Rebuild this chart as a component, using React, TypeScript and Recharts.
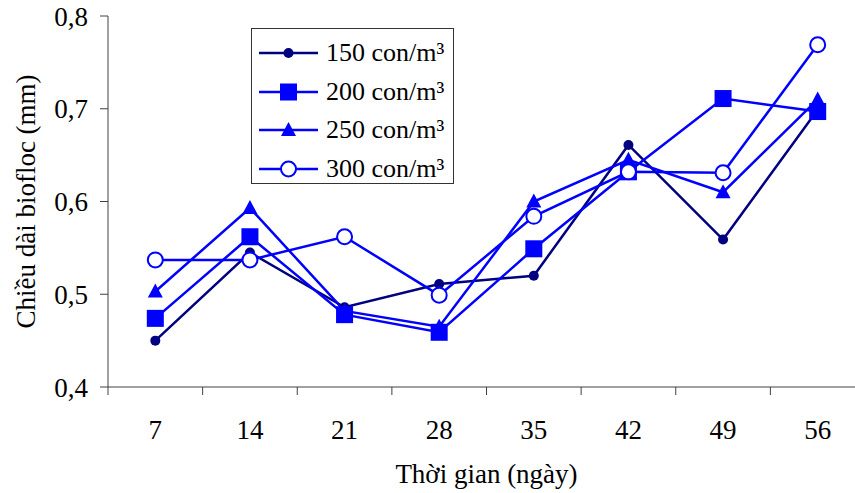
import React from 'react';
import { LineChart, Line, XAxis, YAxis, Legend, Label } from 'recharts';

// Thời gian (ngày)
const days = ['7', '14', '21', '28', '35', '42', '49', '56'];

// Chiều dài biofloc (mm) theo mật độ
const d150 = [0.45, 0.545, 0.486, 0.511, 0.52, 0.661, 0.559, 0.699];
const d200 = [0.474, 0.562, 0.478, 0.459, 0.549, 0.632, 0.711, 0.697];
const d250 = [0.503, 0.593, 0.482, 0.465, 0.6, 0.645, 0.61, 0.71];
const d300 = [0.537, 0.537, 0.562, 0.499, 0.584, 0.632, 0.631, 0.769];

const yTicks = [0.4, 0.5, 0.6, 0.7, 0.8];

const data = days.map((d, i) => ({ day: d, s150: d150[i], s200: d200[i], s250: d250[i], s300: d300[i] }));

const series = [
  { key: 's150', name: '150 con/m³', color: '#000080', shape: 'dot' },
  { key: 's200', name: '200 con/m³', color: '#0000FF', shape: 'square' },
  { key: 's250', name: '250 con/m³', color: '#0000FF', shape: 'triangle' },
  { key: 's300', name: '300 con/m³', color: '#0000FF', shape: 'ring' },
];
// draw order (square sits over triangle in the original)
const drawOrder = ['s150', 's250', 's200', 's300'];

const W = 855;
const H = 493;
const LEFT = 108;
const RIGHT = -10;
const HALF = (W - LEFT - RIGHT) / 16;
const FONT = '"Liberation Serif", "Times New Roman", serif';
const AXIS = '#404040';

const Marker = ({ cx, cy, shape, color }: any) => {
  if (cx == null || cy == null) return null;
  if (shape === 'dot') return <circle cx={cx} cy={cy} r={5} fill={color} />;
  if (shape === 'square') return <rect x={cx - 8.5} y={cy - 8.5} width={17} height={17} fill={color} />;
  if (shape === 'triangle')
    return <polygon points={`${cx},${cy - 8} ${cx + 7.5},${cy + 6} ${cx - 7.5},${cy + 6}`} fill={color} />;
  return <circle cx={cx} cy={cy} r={7.5} fill="#fff" stroke={color} strokeWidth={2} />;
};

const XTick = ({ x, y, payload, index }: any) => (
  <g>
    <line x1={x - HALF} y1={y} x2={x - HALF} y2={y + 8} stroke={AXIS} />
    {index === days.length - 1 && <line x1={x + HALF} y1={y} x2={x + HALF} y2={y + 8} stroke={AXIS} />}
    <text x={x} y={y + 52} textAnchor="middle" fontFamily={FONT} fontSize={27} fill="#000">
      {payload.value}
    </text>
  </g>
);

const LegendBox = () => (
  <div
    style={{
      width: 203,
      height: 156,
      boxSizing: 'border-box',
      border: '1px solid #333',
      background: '#fff',
      paddingTop: 5,
      fontFamily: FONT,
      fontSize: 26,
      color: '#000',
    }}
  >
    {series.map((s) => (
      <div key={s.key} style={{ display: 'flex', alignItems: 'center', height: 38.5 }}>
        <svg width={74} height={24} style={{ flex: 'none' }}>
          <line x1={7} y1={12} x2={66} y2={12} stroke={s.color} strokeWidth={2.5} />
          <Marker cx={36.5} cy={12} shape={s.shape} color={s.color} />
        </svg>
        <span style={{ whiteSpace: 'nowrap' }}>{s.name}</span>
      </div>
    ))}
  </div>
);

export default function App() {
  return (
    <div style={{ position: 'absolute', left: 0, top: 0, width: W, height: H, background: '#fff' }}>
      <LineChart width={W} height={H} data={data} margin={{ top: 16, right: RIGHT, left: 0, bottom: 0 }}>
        <XAxis
          dataKey="day"
          height={106}
          padding={{ left: HALF, right: HALF }}
          tickLine={false}
          tickSize={0}
          tickMargin={0}
          axisLine={{ stroke: AXIS }}
          tick={<XTick />}
          interval={0}
        >
          <Label
            value="Thời gian (ngày)"
            position="insideBottom"
            offset={10}
            style={{ fontFamily: FONT, fontSize: 27, fill: '#000' }}
          />
        </XAxis>
        <YAxis
          width={LEFT}
          domain={[0.4, 0.8]}
          ticks={yTicks}
          tickSize={8}
          tickMargin={12}
          tickLine={{ stroke: AXIS }}
          axisLine={{ stroke: AXIS }}
          tickFormatter={(v: number) => v.toFixed(1).replace('.', ',')}
          tick={{ fontFamily: FONT, fontSize: 27, fill: '#000' }}
        >
          <Label
            value="Chiều dài biofloc (mm)"
            angle={-90}
            position="insideLeft"
            offset={25}
            style={{ fontFamily: FONT, fontSize: 27, fill: '#000', textAnchor: 'middle' }}
          />
        </YAxis>
        <Legend
          layout="vertical"
          align="center"
          verticalAlign="middle"
          content={<LegendBox />}
          wrapperStyle={{ left: 251, top: 28, width: 203, height: 156 }}
        />
        {drawOrder.map((k) => {
          const s = series.find((x) => x.key === k)!;
          return (
            <Line
              key={s.key}
              dataKey={s.key}
              name={s.name}
              stroke={s.color}
              strokeWidth={2.5}
              isAnimationActive={false}
              dot={(p: any) => <Marker key={`${s.key}-${p.index}`} cx={p.cx} cy={p.cy} shape={s.shape} color={s.color} />}
              activeDot={false}
            />
          );
        })}
      </LineChart>
    </div>
  );
}
